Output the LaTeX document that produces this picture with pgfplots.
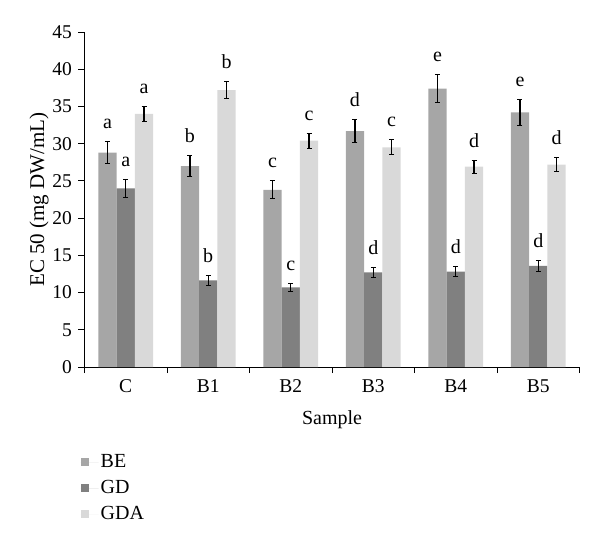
\documentclass[border=0pt]{standalone}
\usepackage{fontspec}
\setmainfont{Liberation Serif}
\usepackage{pgfplots}
\usepackage{pgfplotstable}
\pgfplotsset{compat=1.18}
\definecolor{cBE}{HTML}{A6A6A6}
\definecolor{cGD}{HTML}{808080}
\definecolor{cGDA}{HTML}{D9D9D9}
\pgfplotstableread{
x BE BEe BEl GD GDe GDl GDA GDAe GDAl
0 28.8 1.45 a 24.0 1.2 a 34.0 1.05 a
1 27.0 1.35 b 11.65 0.7 b 37.2 1.15 b
2 23.8 1.2 c 10.7 0.55 c 30.4 1.0 c
3 31.7 1.6 d 12.7 0.7 d 29.5 1.0 c
4 37.4 1.9 e 12.8 0.7 d 26.9 0.85 d
5 34.2 1.8 e 13.6 0.75 d 27.2 0.9 d
}\datatab
\begin{document}
\fontsize{19pt}{23pt}\selectfont
\begin{tikzpicture}
\begin{axis}[
  at={(0,0)}, anchor=south west,
  scale only axis, width=495pt, height=335pt,
  xmin=-0.5, xmax=5.5, ymin=0, ymax=45,
  axis lines=left, axis line style={-, line width=1pt},
  ybar=0pt, bar width=18.3pt,
  xtick={0,...,5}, xticklabels={C,B1,B2,B3,B4,B5},
  major x tick style={draw=none},
  minor xtick={-0.5,0.5,...,5.5},
  minor x tick style={line width=1pt, black},
  minor tick length=6pt,
  ytick={0,5,...,45},
  y tick style={line width=0.8pt, black},
  major tick length=6pt,
  tick align=outside,
  ticklabel style={font=\fontsize{19.5pt}{23pt}\selectfont},
  /pgf/number format/assume math mode=true,
  xlabel={Sample}, ylabel={EC 50 (mg DW/mL)},
  label style={font=\fontsize{20pt}{24pt}\selectfont},
  ylabel style={font=\fontsize{21pt}{25pt}\selectfont, yshift=-9pt},
  xlabel style={yshift=-5pt},
  error bars/error bar style={black, line width=1.3pt},
  error bars/error mark options={rotate=90, mark size=2.5pt, black, line width=1pt},
  point meta=explicit symbolic,
  nodes near coords,
  every node near coord/.append style={font=\fontsize{20pt}{24pt}\selectfont, anchor=base, yshift=13pt, shift={(axis direction cs:0,\myerr)}},
  legend style={at={(axis description cs:0,0)}, anchor=north west, xshift=-7pt, yshift=-83pt, draw=none, fill=none, cells={anchor=west}, row sep=6pt, font=\fontsize{20pt}{24pt}\selectfont},
  legend image code/.code={\fill[#1] (0pt,-4pt) rectangle (8pt,4pt); \path (0pt,0pt) -- (18pt,0pt);},
]
\addplot[fill=cBE, draw=none, visualization depends on={\thisrow{BEe} \as \myerr},
  error bars/.cd, y dir=both, y explicit]
  table[x=x, y=BE, y error=BEe, meta=BEl] {\datatab};
\addplot[fill=cGD, draw=none, visualization depends on={\thisrow{GDe} \as \myerr},
  error bars/.cd, y dir=both, y explicit]
  table[x=x, y=GD, y error=GDe, meta=GDl] {\datatab};
\addplot[fill=cGDA, draw=none, visualization depends on={\thisrow{GDAe} \as \myerr},
  error bars/.cd, y dir=both, y explicit]
  table[x=x, y=GDA, y error=GDAe, meta=GDAl] {\datatab};
\legend{BE,GD,GDA}
\end{axis}
\path[use as bounding box] (-84.5pt,-179pt) rectangle (515.5pt,367pt);
\end{tikzpicture}
\end{document}
